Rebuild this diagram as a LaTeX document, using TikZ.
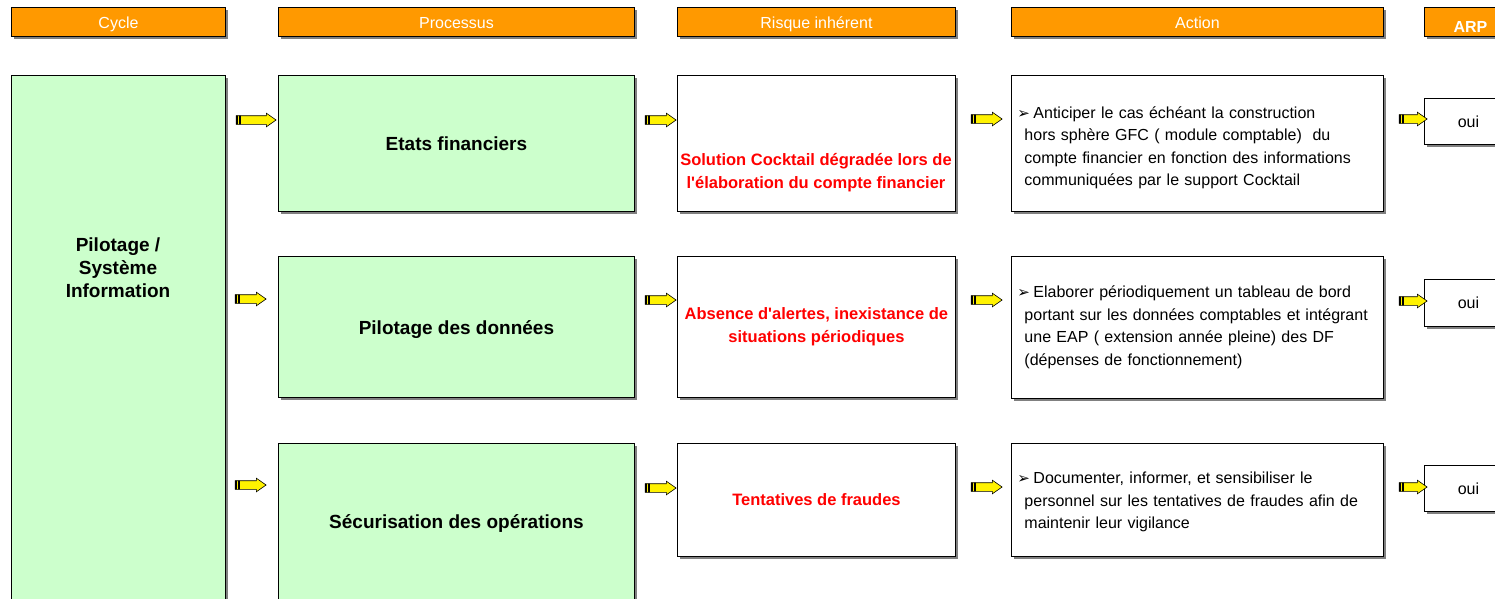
\documentclass[tikz,border=0pt]{standalone}
\usepackage{fontspec}
\setmainfont{Liberation Sans}
\newfontfamily\symfont{DejaVu Sans}
\usetikzlibrary{shapes.arrows,shadows}
\definecolor{orangeTitre}{HTML}{FF9900}
\definecolor{vertPale}{HTML}{CCFFCC}
\newcommand{\puce}{\makebox[16pt][l]{\symfont\fontsize{15}{15}\selectfont ➢}}

\begin{document}
\begin{tikzpicture}[%
        x = 1pt, y = -1pt,
        ombre/.style = {general shadow={fill=black!50, shadow xshift=2.5pt, shadow yshift=-2.5pt}},
        entete/.style = {draw, line width=0.9pt, fill=orangeTitre, ombre, anchor=north west, inner sep=0pt,
            minimum height=29pt, text=white, font=\fontsize{16}{19}\selectfont, text height=14pt, text depth=0pt},
        cadre/.style = {draw, line width=0.9pt, ombre, anchor=north west, inner sep=0pt},
        proc/.style = {cadre, fill=vertPale, minimum width=356pt, font=\bfseries\fontsize{19}{23}\selectfont},
        rouge/.style = {text=red, align=center, font=\bfseries\fontsize{16.5}{23}\selectfont},
        risque/.style = {cadre, fill=white, minimum width=278pt, rouge},
        action/.style = {cadre, fill=white, minimum width=372pt, text width=360pt, inner xsep=6pt,
            align=left, font=\fontsize{16}{22.5}\selectfont},
        reponse/.style = {cadre, fill=white, minimum width=88pt, font=\fontsize{16}{19}\selectfont},
        fleche/.style = {single arrow, draw, line width=0.6pt, fill=yellow, inner xsep=0pt, inner ysep=4pt,
            single arrow head extend=2.5pt, single arrow tip angle=70, minimum height=31pt,
            path picture={
                \fill[black] ([xshift=0.3pt]path picture bounding box.south west) rectangle ([xshift=2pt]path picture bounding box.north west);
                \fill[black] ([xshift=3pt]path picture bounding box.south west) rectangle ([xshift=5pt]path picture bounding box.north west);
            }}
    ]
      \useasboundingbox (0,0) rectangle (1495,598);
      \clip (0,0) rectangle (1495,598);

      \node[entete, minimum width=214pt] (hCycle) at (11,7) {Cycle};
      \node[entete, minimum width=356pt] (hProc) at (278,7) {Processus};
      \node[entete, minimum width=278pt] (hRisque) at (677,7) {Risque inhérent};
      \node[entete, minimum width=372pt] (hAction) at (1011,7) {Action};
      \node[entete, minimum width=92pt] (hArp) at (1424,7) {\raisebox{-3.5pt}{\bfseries ARP}};

      \node[cadre, fill=vertPale, minimum width=214pt, minimum height=545pt] (cyc) at (11,75) {};
      \node[align=center, font=\bfseries\fontsize{19}{23}\selectfont] (tCyc) at (118,268) {Pilotage /\\Système\\Information};

      \node[proc, minimum height=136pt] (p1) at (278,75) {Etats financiers};
      \node[proc, minimum height=141pt, text height=19pt, text depth=4pt] (p2) at (278,256) {Pilotage des données};
      \node[proc, minimum height=156pt, text height=18pt, text depth=4pt] (p3) at (278,443) {Sécurisation des opérations};

      \node[risque, minimum height=136pt] (r1) at (677,75) {};
      \node[rouge] (tR1) at (816,172.5) {Solution Cocktail dégradée lors de\\l\textquotesingle élaboration du compte financier};
      \node[risque, minimum height=141pt] (r2) at (677,256) {Absence d\textquotesingle alertes, inexistance de\\situations périodiques};
      \node[risque, minimum height=113pt] (r3) at (677,443) {Tentatives de fraudes};

      \node[action, minimum height=136pt] (a1) at (1011,75) {\rule{0pt}{20pt}\puce Anticiper le cas échéant la construction\\
        \hspace*{7pt}hors sphère GFC ( module comptable)\ \ du\\
        \hspace*{7pt}compte financier en fonction des informations\\
        \hspace*{7pt}communiquées par le support Cocktail};
      \node[action, minimum height=142pt] (a2) at (1011,256) {\puce Elaborer périodiquement un tableau de bord\\
        \hspace*{7pt}portant sur les données comptables et intégrant\\
        \hspace*{7pt}une EAP ( extension année pleine) des DF\\
        \hspace*{7pt}(dépenses de fonctionnement)};
      \node[action, minimum height=113pt] (a3) at (1011,443) {\rule{0pt}{16pt}\puce Documenter, informer, et sensibiliser le\\
        \hspace*{7pt}personnel sur les tentatives de fraudes afin de\\
        \hspace*{7pt}maintenir leur vigilance};

      \node[reponse, minimum height=46pt] (o1) at (1424,98) {oui};
      \node[reponse, minimum height=47pt] (o2) at (1424,279) {oui};
      \node[reponse, minimum height=46pt] (o3) at (1424,465) {oui};

      \node[fleche, minimum height=40pt] (f11) at (253,120) {};
      \node[fleche] (f12) at (657.5,120) {};
      \node[fleche] (f13) at (983.5,119) {};
      \node[fleche, minimum height=28pt] (f14) at (1410,119) {};
      \node[fleche] (f21) at (247.5,299) {};
      \node[fleche] (f22) at (657.5,300) {};
      \node[fleche] (f23) at (983.5,300) {};
      \node[fleche, minimum height=28pt] (f24) at (1410,301) {};
      \node[fleche] (f31) at (247.5,485) {};
      \node[fleche] (f32) at (657.5,488) {};
      \node[fleche] (f33) at (983.5,487) {};
      \node[fleche, minimum height=28pt] (f34) at (1410,487) {};
\end{tikzpicture}
\end{document}
